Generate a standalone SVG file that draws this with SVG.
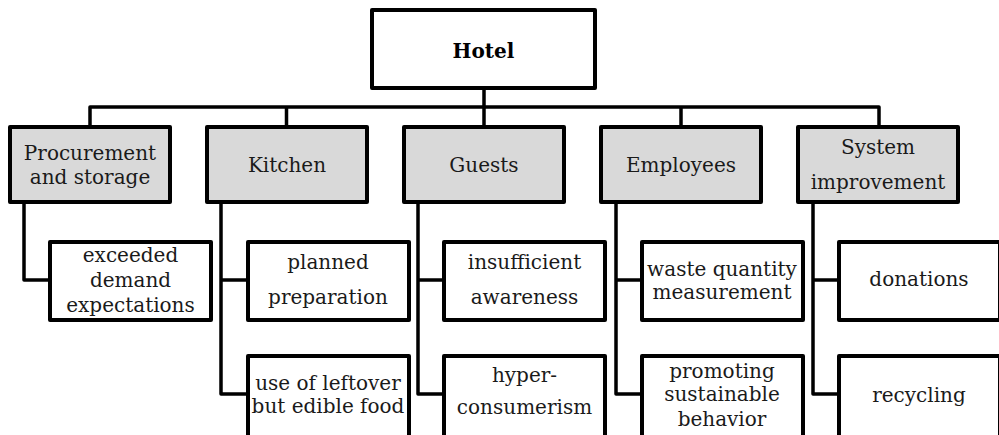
<svg xmlns="http://www.w3.org/2000/svg" width="999" height="435" viewBox="0 0 999 435">
<style>
.box{fill:#fff;stroke:#000;stroke-width:4;stroke-linejoin:round}
.cat{fill:#d9d9d9;stroke:#000;stroke-width:4;stroke-linejoin:round}
.con{fill:none;stroke:#000;stroke-width:3.5;stroke-linejoin:round}
text{font-family:"DejaVu Serif","Liberation Serif",serif;font-size:20px;fill:#1a1a1a;text-anchor:middle}
.b{font-weight:bold;font-size:20px;fill:#000}
</style>
<rect width="999" height="435" fill="#fff"/>
<g id="connectors">
<path class="con" d="M484 90V125M90 125V107H879V125M286.5 107V125M681 107V125"/>
<path class="con" d="M24 204V280H48"/>
<path class="con" d="M221 204V394H246M221 280H246"/>
<path class="con" d="M418 204V394H442M418 280H442"/>
<path class="con" d="M616 204V394H640M616 280H640"/>
<path class="con" d="M813 204V394H837M813 280H837"/>
</g>
<g id="hotel"><rect class="box" x="372" y="10" width="223" height="78"/><text class="b" x="483.5" y="58">Hotel</text></g>
<g id="procurement"><rect class="cat" x="10" y="127" width="160" height="75"/><text x="90" y="160">Procurement</text><text x="90" y="184">and storage</text></g>
<g id="kitchen"><rect class="cat" x="207" y="127" width="160" height="75"/><text x="287" y="172">Kitchen</text></g>
<g id="guests"><rect class="cat" x="404" y="127" width="160" height="75"/><text x="484" y="172">Guests</text></g>
<g id="employees"><rect class="cat" x="601" y="127" width="160" height="75"/><text x="681" y="172">Employees</text></g>
<g id="system"><rect class="cat" x="798" y="127" width="160" height="75"/><text x="878" y="154">System</text><text x="878" y="189">improvement</text></g>
<g id="exceeded"><rect class="box" x="50" y="242" width="161" height="78"/><text x="130.5" y="262">exceeded</text><text x="130.5" y="287">demand</text><text x="130.5" y="312">expectations</text></g>
<g id="planned"><rect class="box" x="248" y="242" width="161" height="78"/><text x="328" y="269">planned</text><text x="328" y="304">preparation</text></g>
<g id="insufficient"><rect class="box" x="444" y="242" width="161" height="78"/><text x="524.5" y="269">insufficient</text><text x="524.5" y="304">awareness</text></g>
<g id="waste"><rect class="box" x="642" y="242" width="161" height="78"/><text x="722" y="276">waste quantity</text><text x="722" y="299">measurement</text></g>
<g id="donations"><rect class="box" x="839" y="242" width="161" height="78"/><text x="919" y="286">donations</text></g>
<g id="leftover"><rect class="box" x="248" y="356" width="161" height="82"/><text x="328" y="390">use of leftover</text><text x="328" y="413">but edible food</text></g>
<g id="hyper"><rect class="box" x="444" y="356" width="161" height="82"/><text x="524.5" y="382">hyper-</text><text x="524.5" y="414">consumerism</text></g>
<g id="promoting"><rect class="box" x="642" y="356" width="161" height="82"/><text x="722" y="378">promoting</text><text x="722" y="401">sustainable</text><text x="722" y="426">behavior</text></g>
<g id="recycling"><rect class="box" x="839" y="356" width="161" height="82"/><text x="919" y="402">recycling</text></g>
</svg>
